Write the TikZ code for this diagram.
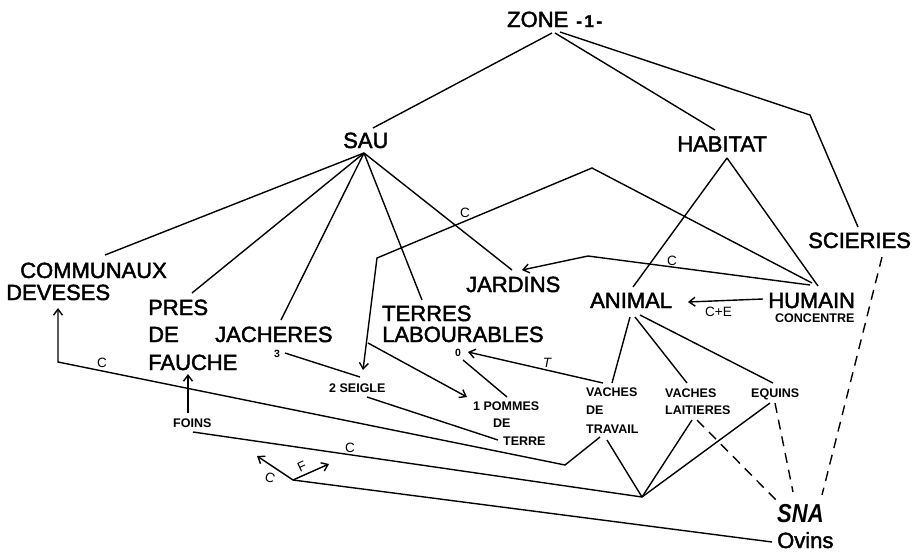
\documentclass[tikz,border=0pt]{standalone}
\usepackage{fontspec}
\setmainfont{Liberation Sans}
\newfontfamily\heavy{Liberation Sans}[FakeBold=2]
\newfontfamily\heavyit{Liberation Sans Bold Italic}
\usetikzlibrary{arrows.meta}
\tikzset{
  big/.style={font=\heavy\fontsize{22}{22}\selectfont, inner sep=0pt},
  sml/.style={font=\bfseries\fontsize{12.5}{12.5}\selectfont, inner sep=0pt},
  tiny/.style={font=\bfseries\fontsize{10.5}{10.5}\selectfont, inner sep=0pt},
  lab/.style={font=\fontsize{13.5}{13.5}\selectfont, inner sep=0pt},
  ln/.style={line width=1.4pt, line join=miter},
  arr/.style={ln, -{Straight Barb[length=6pt,width=9pt,line width=1.4pt]}},
  dsh/.style={line width=1.4pt, dash pattern=on 10pt off 7pt}
}
\begin{document}
\begin{tikzpicture}[x=1pt,y=-1pt]
\useasboundingbox[fill=white] (0,0) rectangle (913,555);
% ---------- main labels ----------
\node[big,anchor=base west] (zone) at (507,27) {ZONE\hspace{8pt}{\bfseries\fontsize{17}{17}\selectfont -\kern2.5pt 1\kern2.5pt-}};
\node[big,anchor=base west] (sau) at (343,148) {SAU};
\node[big,anchor=base west] (hab) at (677,151.5) {HABITAT};
\node[big,anchor=base west] (sci) at (808,248) {SCIERIES};
\node[big,anchor=base west] (comm) at (20,278) {COMMUNAUX};
\node[big,anchor=base west] (dev) at (6,300) {DEVESES};
\node[big,anchor=base west] (pres1) at (148,315) {PRES};
\node[big,anchor=base west] (pres2) at (148,342) {DE};
\node[big,anchor=base west] (pres3) at (148,370) {FAUCHE};
\node[big,anchor=base west] (jach) at (215,342) {JACHERES};
\node[big,anchor=base west] (terr1) at (382,321) {TERRES};
\node[big,anchor=base west] (terr2) at (382,342) {LABOURABLES};
\node[big,anchor=base west] (jard) at (466,292) {JARDINS};
\node[big,anchor=base west] (anim) at (590,308) {ANIMAL};
\node[big,anchor=base west] (hum) at (768,308) {HUMAIN};
\node[sml,anchor=base west] (conc) at (775,322) {CONCENTRE};
\node[font=\heavyit\fontsize{22}{22}\selectfont, inner sep=0pt, anchor=base west] (sna) at (777,522) {\scalebox{1}[1.18]{SNA}};
\node[big,anchor=base west] (ovins) at (777,548) {Ovins};
% ---------- small labels ----------
\node[sml,anchor=base west] (vt1) at (586,396) {VACHES};
\node[sml,anchor=base west] (vt2) at (586,414) {DE};
\node[sml,anchor=base west] (vt3) at (586,433) {TRAVAIL};
\node[sml,anchor=base west] (vl1) at (665,397) {VACHES};
\node[sml,anchor=base west] (vl2) at (665,414) {LAITIERES};
\node[sml,anchor=base west] (equ) at (751,397) {EQUINS};
\node[sml,anchor=base west] (foins) at (173,427) {FOINS};
\node[tiny,anchor=base west] (three) at (274,357) {3};
\node[tiny,anchor=base west] (zero) at (455,356) {0};
\node[sml,anchor=base west] (seig) at (329,392) {2 SEIGLE};
\node[sml,anchor=base west] (pom1) at (473,410) {1 POMMES};
\node[sml,anchor=base west] (pom2) at (493,427) {DE};
\node[sml,anchor=base west] (pom3) at (503,445) {TERRE};
% ---------- flow letters ----------
\node[lab,anchor=base] (lc1) at (465,217) {C};
\node[lab,anchor=base] (lc2) at (672,265) {C};
\node[lab,anchor=base west] (lce) at (705,316) {C+E};
\node[lab,anchor=base,font=\itshape\fontsize{13.5}{13.5}\selectfont] (lt) at (547,367) {T};
\node[lab,anchor=base] (lc3) at (102,367) {C};
\node[lab,anchor=base] (lc4) at (350,452) {C};
\node[lab,rotate=-20] (lc5) at (270,478) {C};
\node[lab,rotate=25] (lf) at (302,467) {F};
% ---------- connection points ----------
\coordinate (zB1) at (552,33);
\coordinate (zB2) at (555,33);
\coordinate (zB3) at (560,32);
\coordinate (sT) at (373,128);
\coordinate (hT) at (715,130);
\coordinate (scK) at (810,115);
\coordinate (scT) at (858,227);
\coordinate (sB) at (364,153);
\coordinate (commT) at (105,255);
\coordinate (presT) at (192,293);
\coordinate (jachT) at (281,320);
\coordinate (terrT) at (422,300);
\coordinate (jardT) at (512,270);
\coordinate (hB) at (727,158);
\coordinate (animT) at (633,287);
\coordinate (humT) at (818,286);
\coordinate (humA) at (812,283);
\coordinate (humB) at (810,285);
\coordinate (k1) at (592,168);
\coordinate (k2) at (377,258);
\coordinate (seigT) at (363,370);
\coordinate (k3) at (588,256);
\coordinate (jardE) at (522,270);
\coordinate (humW) at (763,299);
\coordinate (animE) at (688,302);
\coordinate (aB1) at (630,317);
\coordinate (aB2) at (635,317);
\coordinate (aB3) at (640,315);
\coordinate (vtT) at (612,383);
\coordinate (vlT) at (687,383);
\coordinate (eqT) at (773,383);
\coordinate (vtT2) at (603,383);
\coordinate (zeroE) at (468,352);
\coordinate (zeroB) at (463,360);
\coordinate (pomT) at (507,397);
\coordinate (threeE) at (285,353);
\coordinate (seigN) at (360,377);
\coordinate (br) at (368,343);
\coordinate (pomW) at (467,397);
\coordinate (seigB) at (367,397);
\coordinate (terreW) at (498,440);
\coordinate (vtB1) at (600,437);
\coordinate (k4) at (565,465);
\coordinate (k5) at (58,362);
\coordinate (devB) at (58,308);
\coordinate (vtB2) at (607,440);
\coordinate (jn) at (642,497);
\coordinate (vlB) at (692,420);
\coordinate (eqB) at (770,403);
\coordinate (foT) at (188,413);
\coordinate (faB) at (188,374);
\coordinate (foB) at (193,432);
\coordinate (vlB2) at (697,420);
\coordinate (snaA) at (778,502);
\coordinate (eqB2) at (775,403);
\coordinate (snaB) at (793,492);
\coordinate (sciB) at (882,257);
\coordinate (snaC) at (822,495);
\coordinate (cf) at (293,480);
\coordinate (ovW) at (772,542);
\coordinate (cfC) at (257,456);
\coordinate (cfF) at (329,464);
% ---------- connectors ----------
\draw[ln] (zB1) -- (sT);
\draw[ln] (zB2) -- (hT);
\draw[ln] (zB3) -- (scK) -- (scT);
\draw[ln] (sB) -- (commT);
\draw[ln] (sB) -- (presT);
\draw[ln] (sB) -- (jachT);
\draw[ln] (sB) -- (terrT);
\draw[ln] (sB) -- (jardT);
\draw[ln] (hB) -- (animT);
\draw[ln] (hB) -- (humT);
\draw[arr] (humA) -- (k1) -- (k2) -- (seigT);
\draw[arr] (humB) -- (k3) -- (jardE);
\draw[arr] (humW) -- (animE);
\draw[ln] (aB1) -- (vtT);
\draw[ln] (aB2) -- (vlT);
\draw[ln] (aB3) -- (eqT);
\draw[arr] (vtT2) -- (zeroE);
\draw[ln] (zeroB) -- (pomT);
\draw[ln] (threeE) -- (seigN);
\draw[arr] (br) -- (pomW);
\draw[ln] (seigB) -- (terreW);
\draw[arr] (vtB1) -- (k4) -- (k5) -- (devB);
\draw[ln] (vtB2) -- (jn);
\draw[ln] (vlB) -- (jn);
\draw[ln] (eqB) -- (jn);
\draw[arr] (foT) -- (faB);
\draw[ln] (foB) -- (jn);
\draw[dsh] (vlB2) -- (snaA);
\draw[dsh] (eqB2) -- (snaB);
\draw[dsh] (sciB) -- (snaC);
\draw[ln] (cf) -- (ovW);
\draw[arr] (cf) -- (cfC);
\draw[arr] (cf) -- (cfF);
\end{tikzpicture}
\end{document}
